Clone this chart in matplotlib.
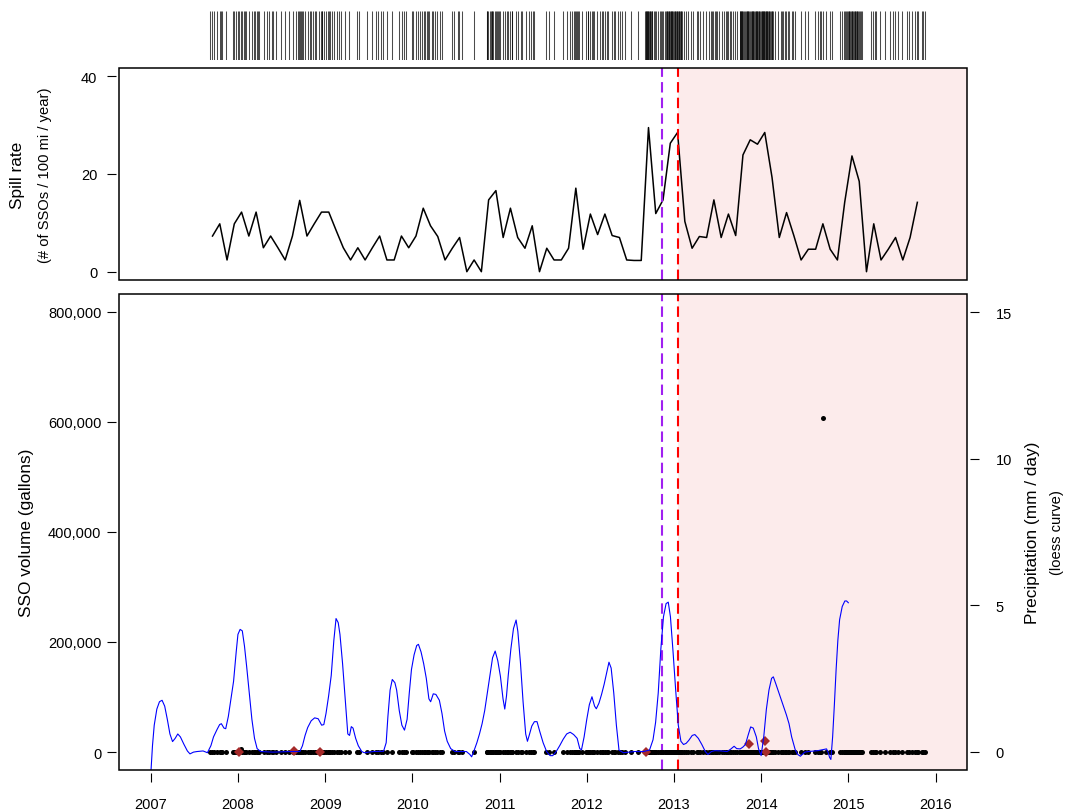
import matplotlib
matplotlib.use('Agg')
import matplotlib.pyplot as plt
from matplotlib.patches import Rectangle
from matplotlib.ticker import FuncFormatter
import pandas as pd

plt.rcParams['font.family'] = ['Liberation Sans', 'DejaVu Sans']

# --- data ---------------------------------------------------------------
# monthly spill rate (# SSOs / 100 mi / year), Sep 2007 .. Oct 2015
rate_months = pd.date_range('2007-09-01', '2015-10-01', freq='MS')
spill_rate = [7.3, 9.8, 2.4, 9.8, 12.2, 7.3, 12.2, 4.9, 7.3, 4.9, 2.4, 7.3,
              14.6, 7.3, 9.8, 12.2, 12.2, 8.5, 4.9, 2.4, 4.9, 2.4, 4.9, 7.3,
              2.4, 2.4, 7.3, 4.9, 7.3, 13.0, 9.4, 7.2, 2.4, 4.8, 7.0, 0.0,
              2.4, 0.0, 14.7, 16.6, 7.0, 13.0, 7.0, 4.8, 9.4, 0.0, 4.8, 2.4,
              2.4, 4.8, 17.1, 4.6, 11.8, 7.6, 11.8, 7.4, 7.0, 2.4, 2.3, 2.3,
              29.5, 11.9, 14.7, 26.3, 28.5, 10.3, 4.8, 7.2, 7.0, 14.7, 7.0, 11.8,
              7.4, 23.9, 27.0, 26.1, 28.5, 19.3, 7.0, 12.1, 7.4, 2.4, 4.6, 4.6,
              9.8, 4.6, 2.4, 14.2, 23.7, 18.5, 0.0, 9.8, 2.4, 4.6, 7.0, 2.4,
              7.0, 14.2]

# SSO event dates (decimal years), read from the rug
sso_dates = [
    2007.680, 2007.707, 2007.730, 2007.757, 2007.790, 2007.803, 2007.822, 2007.864,
    2007.948, 2007.959, 2007.979, 2007.998, 2008.017, 2008.036, 2008.050, 2008.070,
    2008.080, 2008.089, 2008.128, 2008.158, 2008.189, 2008.200, 2008.215, 2008.230,
    2008.242, 2008.300, 2008.330, 2008.361, 2008.390, 2008.407, 2008.433, 2008.495,
    2008.545, 2008.586, 2008.628, 2008.663, 2008.686, 2008.700, 2008.712, 2008.725,
    2008.739, 2008.745, 2008.770, 2008.808, 2008.825, 2008.839, 2008.858, 2008.880,
    2008.896, 2008.930, 2008.949, 2008.960, 2008.969, 2008.988, 2009.011, 2009.030,
    2009.045, 2009.056, 2009.076, 2009.106, 2009.137, 2009.160, 2009.183, 2009.228,
    2009.274, 2009.370, 2009.389, 2009.477, 2009.542, 2009.580, 2009.611, 2009.640,
    2009.660, 2009.710, 2009.764, 2009.845, 2009.878, 2009.900, 2009.930, 2009.993,
    2010.012, 2010.039, 2010.070, 2010.089, 2010.115, 2010.130, 2010.146, 2010.165,
    2010.180, 2010.192, 2010.222, 2010.240, 2010.261, 2010.287, 2010.318, 2010.345,
    2010.459, 2010.482, 2010.520, 2010.536, 2010.574, 2010.708, 2010.853, 2010.862,
    2010.872, 2010.890, 2010.903, 2010.912, 2010.918, 2010.930, 2010.949, 2010.960,
    2010.975, 2010.987, 2010.995, 2011.010, 2011.037, 2011.063, 2011.090, 2011.102,
    2011.121, 2011.140, 2011.147, 2011.186, 2011.210, 2011.243, 2011.262, 2011.300,
    2011.340, 2011.362, 2011.388, 2011.400, 2011.530, 2011.568, 2011.620, 2011.732,
    2011.770, 2011.808, 2011.835, 2011.850, 2011.865, 2011.880, 2011.890, 2011.904,
    2011.912, 2011.942, 2011.988, 2012.010, 2012.019, 2012.040, 2012.057, 2012.075,
    2012.087, 2012.122, 2012.152, 2012.171, 2012.190, 2012.210, 2012.230, 2012.248,
    2012.286, 2012.310, 2012.324, 2012.355, 2012.382, 2012.408, 2012.439, 2012.508,
    2012.590, 2012.668, 2012.675, 2012.682, 2012.688, 2012.695, 2012.700, 2012.707,
    2012.714, 2012.722, 2012.730, 2012.738, 2012.745, 2012.753, 2012.770, 2012.783,
    2012.800, 2012.821, 2012.840, 2012.850, 2012.867, 2012.880, 2012.898, 2012.910,
    2012.917, 2012.925, 2012.932, 2012.940, 2012.948, 2012.955, 2012.962, 2012.970,
    2012.975, 2012.982, 2012.992, 2013.004, 2013.012, 2013.018, 2013.025, 2013.032,
    2013.040, 2013.047, 2013.055, 2013.062, 2013.070, 2013.076, 2013.081, 2013.089,
    2013.110, 2013.135, 2013.158, 2013.196, 2013.223, 2013.261, 2013.280, 2013.299,
    2013.337, 2013.364, 2013.402, 2013.420, 2013.433, 2013.450, 2013.471, 2013.485,
    2013.490, 2013.517, 2013.548, 2013.578, 2013.595, 2013.605, 2013.625, 2013.643,
    2013.660, 2013.681, 2013.700, 2013.720, 2013.755, 2013.758, 2013.765, 2013.772,
    2013.777, 2013.785, 2013.796, 2013.805, 2013.815, 2013.826, 2013.834, 2013.840,
    2013.848, 2013.853, 2013.862, 2013.873, 2013.880, 2013.892, 2013.900, 2013.905,
    2013.911, 2013.920, 2013.930, 2013.937, 2013.944, 2013.949, 2013.958, 2013.968,
    2013.975, 2013.980, 2013.987, 2013.995, 2014.006, 2014.012, 2014.019, 2014.025,
    2014.032, 2014.038, 2014.045, 2014.052, 2014.058, 2014.064, 2014.072, 2014.078,
    2014.085, 2014.092, 2014.102, 2014.111, 2014.121, 2014.130, 2014.140, 2014.159,
    2014.198, 2014.225, 2014.236, 2014.255, 2014.270, 2014.282, 2014.305, 2014.320,
    2014.350, 2014.370, 2014.389, 2014.460, 2014.503, 2014.542, 2014.618, 2014.649,
    2014.675, 2014.690, 2014.713, 2014.740, 2014.790, 2014.809, 2014.905, 2014.931,
    2014.945, 2014.962, 2014.972, 2014.981, 2014.995, 2015.005, 2015.012, 2015.020,
    2015.028, 2015.038, 2015.045, 2015.058, 2015.065, 2015.072, 2015.077, 2015.090,
    2015.096, 2015.105, 2015.115, 2015.123, 2015.135, 2015.145, 2015.160, 2015.260,
    2015.287, 2015.306, 2015.320, 2015.363, 2015.421, 2015.478, 2015.510, 2015.535,
    2015.574, 2015.612, 2015.669, 2015.700, 2015.727, 2015.765, 2015.790, 2015.803,
    2015.841, 2015.860, 2015.880,
]
# spills with a visible volume (gallons); all others plot at ~0
large_spills = {2008.036: 5000, 2014.713: 606000}

# highlighted spills (brown diamonds)
flag_dates = [2008.01, 2008.64, 2008.94, 2012.68, 2013.86, 2014.045, 2014.06]
flag_volume = [0, 1800, 0, 0, 15300, 19500, 0]

# precipitation loess curve (mm / day)
precip_year = [
    2007.00, 2007.02, 2007.04, 2007.07, 2007.10, 2007.13, 2007.16, 2007.19, 2007.22, 2007.25,
    2007.28, 2007.31, 2007.34, 2007.38, 2007.42, 2007.45, 2007.49, 2007.53, 2007.60, 2007.65,
    2007.69, 2007.72, 2007.76, 2007.79, 2007.81, 2007.84, 2007.86, 2007.89, 2007.92, 2007.95,
    2007.98, 2008.00, 2008.025, 2008.05, 2008.075, 2008.10, 2008.13, 2008.16, 2008.19, 2008.22,
    2008.26, 2008.40, 2008.60, 2008.71, 2008.74, 2008.77, 2008.80, 2008.84, 2008.88, 2008.92,
    2008.96, 2008.985, 2009.01, 2009.04, 2009.07, 2009.10, 2009.125, 2009.15, 2009.17, 2009.20,
    2009.23, 2009.26, 2009.28, 2009.30, 2009.32, 2009.35, 2009.38, 2009.42, 2009.45, 2009.55,
    2009.67, 2009.70, 2009.72, 2009.745, 2009.77, 2009.80, 2009.82, 2009.85, 2009.88, 2009.91,
    2009.94, 2009.965, 2009.99, 2010.02, 2010.05, 2010.07, 2010.10, 2010.13, 2010.16, 2010.19,
    2010.21, 2010.24, 2010.27, 2010.31, 2010.34, 2010.37, 2010.40, 2010.44, 2010.49, 2010.62,
    2010.66, 2010.68, 2010.71, 2010.74, 2010.77, 2010.80, 2010.83, 2010.86, 2010.89, 2010.92,
    2010.95, 2010.98, 2011.01, 2011.04, 2011.06, 2011.08, 2011.10, 2011.13, 2011.16, 2011.19,
    2011.21, 2011.24, 2011.27, 2011.30, 2011.32, 2011.34, 2011.37, 2011.40, 2011.43, 2011.46,
    2011.50, 2011.54, 2011.58, 2011.61, 2011.65, 2011.69, 2011.73, 2011.77, 2011.81, 2011.85,
    2011.89, 2011.92, 2011.94, 2011.97, 2012.00, 2012.03, 2012.06, 2012.09, 2012.11, 2012.14,
    2012.17, 2012.20, 2012.23, 2012.255, 2012.28, 2012.31, 2012.34, 2012.37, 2012.42, 2012.55,
    2012.65, 2012.72, 2012.76, 2012.79, 2012.82, 2012.85, 2012.88, 2012.91, 2012.935, 2012.96,
    2012.99, 2013.02, 2013.05, 2013.08, 2013.11, 2013.14, 2013.17, 2013.21, 2013.24, 2013.28,
    2013.32, 2013.36, 2013.39, 2013.43, 2013.47, 2013.54, 2013.61, 2013.65, 2013.69, 2013.72,
    2013.76, 2013.79, 2013.82, 2013.85, 2013.88, 2013.91, 2013.945, 2013.97, 2014.00, 2014.03,
    2014.06, 2014.09, 2014.12, 2014.14, 2014.17, 2014.21, 2014.25, 2014.29, 2014.32, 2014.35,
    2014.39, 2014.42, 2014.45, 2014.50, 2014.54, 2014.65, 2014.75, 2014.77, 2014.785, 2014.80,
    2014.82, 2014.84, 2014.86, 2014.88, 2014.90, 2014.93, 2014.96, 2014.98, 2015.00]
precip_mm = [
    -0.8, 0.2, 0.9, 1.45, 1.7, 1.75, 1.55, 1.1, 0.6, 0.34,
    0.45, 0.6, 0.5, 0.25, 0.02, -0.08, -0.02, 0.0, 0.02, -0.04,
    0.2, 0.5, 0.75, 0.92, 0.95, 0.8, 0.78, 1.2, 1.8, 2.4,
    3.4, 4.0, 4.17, 4.12, 3.6, 2.9, 2.0, 1.1, 0.45, 0.1,
    0.0, -0.02, 0.0, 0.0, 0.2, 0.55, 0.82, 1.05, 1.15, 1.12,
    0.9, 0.92, 1.3, 1.9, 2.6, 3.8, 4.54, 4.4, 4.0, 3.0,
    1.8, 0.6, 0.55, 0.85, 0.8, 0.45, 0.2, 0.0, -0.04, 0.0,
    0.01, 0.3, 1.2, 2.1, 2.46, 2.35, 2.1, 1.4, 0.9, 0.73,
    1.1, 2.0, 2.8, 3.3, 3.62, 3.66, 3.4, 3.0, 2.5, 1.8,
    1.7, 1.97, 1.95, 1.75, 1.3, 0.7, 0.35, 0.1, 0.0, 0.0,
    -0.1, -0.18, 0.05, 0.3, 0.6, 0.95, 1.4, 2.0, 2.6, 3.2,
    3.43, 3.1, 2.57, 1.8, 1.45, 1.9, 2.6, 3.5, 4.2, 4.49,
    4.1, 3.03, 1.7, 0.6, 0.35, 0.55, 0.87, 1.02, 1.02, 0.7,
    0.3, 0.0, -0.14, -0.14, 0.0, 0.2, 0.42, 0.6, 0.66, 0.58,
    0.45, 0.1, 0.06, 0.5, 1.09, 1.6, 1.87, 1.55, 1.46, 1.65,
    1.95, 2.3, 2.7, 3.05, 2.85, 2.0, 0.9, 0.05, -0.04, 0.0,
    0.0, 0.05, 0.4, 1.0, 2.0, 3.5, 4.6, 5.05, 5.1, 4.6,
    3.4, 2.1, 0.9, 0.35, 0.24, 0.28, 0.38, 0.55, 0.58, 0.45,
    0.24, 0.0, -0.1, 0.0, 0.03, 0.02, 0.0, 0.08, 0.18, 0.1,
    0.09, 0.15, 0.24, 0.55, 0.84, 0.8, 0.5, 0.1, -0.14, 0.5,
    1.44, 2.1, 2.5, 2.55, 2.3, 1.95, 1.6, 1.25, 0.95, 0.5,
    0.07, -0.1, -0.16, -0.02, 0.0, 0.03, 0.09, -0.04, -0.2, -0.27,
    0.5, 1.6, 2.8, 3.8, 4.5, 4.95, 5.14, 5.14, 5.08]

purple_date = 2012.867
red_date = 2013.047
years = list(range(2007, 2017))

# --- figure -------------------------------------------------------------
rate_x = rate_months.year + (rate_months.month - 0.5) / 12
sso_vol = [large_spills.get(d, 0) for d in sso_dates]

XLIM = (2006.636, 2016.361)
SHADE = '#fcebeb'
PURPLE = '#a020f0'

fig = plt.figure(figsize=(10.65, 8.12), dpi=100)
L, W = 119 / 1065, 848 / 1065
ax_rug = fig.add_axes([L, 1 - 61 / 812, W, 49 / 812])
ax_top = fig.add_axes([L, 1 - 280.7 / 812, W, 211.4 / 812])
ax_bot = fig.add_axes([L, 1 - 770.7 / 812, W, 475.7 / 812])
ax_pr = ax_bot.twinx()


def r_axes(ax, sides):
    for s in ax.spines.values():
        s.set_visible(False)
    for s in sides:
        ax.spines[s].set_position(('outward', 2.2))
    ax.tick_params(direction='out', length=6.5, width=0.8, labelsize=10.5)


def box(ax):
    ax.add_patch(Rectangle((0, 0), 1, 1, transform=ax.transAxes, fill=False,
                           lw=1.1, ec='black', clip_on=False, zorder=10))


# rug of spill dates
ax_rug.vlines(sso_dates, 0, 1, colors='black', alpha=0.7, lw=0.75)
ax_rug.set_xlim(XLIM)
ax_rug.set_ylim(0, 1)
ax_rug.axis('off')

# spill rate
ax_top.axvspan(red_date, XLIM[1], color=SHADE, lw=0)
ax_top.plot(rate_x, spill_rate, color='black', lw=1.1)
ax_top.axvline(purple_date, color=PURPLE, lw=1.5, dashes=(5, 2.5))
ax_top.axvline(red_date, color='red', lw=1.5, dashes=(5, 2.5))
ax_top.set_xlim(XLIM)
ax_top.set_ylim(-1.64, 41.64)
ax_top.set_xticks([])
ax_top.set_yticks([0, 20, 40])
r_axes(ax_top, ['left'])
ax_top.tick_params(axis='y', pad=7)
box(ax_top)

# SSO volume
ax_bot.axvspan(red_date, XLIM[1], color=SHADE, lw=0)
ax_bot.axvline(purple_date, color=PURPLE, lw=1.5, dashes=(5, 2.5))
ax_bot.axvline(red_date, color='red', lw=1.5, dashes=(5, 2.5))
ax_bot.plot(sso_dates, sso_vol, 'o', ms=3.6, mew=0, color='black', zorder=3)
ax_bot.plot(flag_dates, flag_volume, 'D', ms=5, mew=0, color='#a52a2a', zorder=4)
ax_bot.set_xlim(XLIM)
ax_bot.set_ylim(-32000, 832000)
ax_bot.set_xticks(years)
ax_bot.set_yticks([0, 200000, 400000, 600000, 800000])
ax_bot.yaxis.set_major_formatter(FuncFormatter(lambda v, p: f'{int(v):,}'))
r_axes(ax_bot, ['left', 'bottom'])
ax_bot.tick_params(axis='x', pad=11)
ax_bot.tick_params(axis='y', pad=4)

# precipitation
ax_pr.plot(precip_year, precip_mm, color='blue', lw=0.8, zorder=2)
ax_pr.set_ylim(-0.62, 15.62)
ax_pr.set_yticks([0, 5, 10, 15])
r_axes(ax_pr, ['right'])
ax_pr.tick_params(axis='y', pad=12)
box(ax_pr)

# axis titles
fig.text(18 / 1065, 1 - 175 / 812, 'Spill rate', rotation=90, ha='center', va='center', fontsize=12.4)
fig.text(45 / 1065, 1 - 175 / 812, '(# of SSOs / 100 mi / year)', rotation=90,
         ha='center', va='center', fontsize=10.6)
fig.text(27 / 1065, 1 - 533 / 812, 'SSO volume (gallons)', rotation=90, ha='center', va='center', fontsize=12.4)
fig.text(1032 / 1065, 1 - 533 / 812, 'Precipitation (mm / day)', rotation=90,
         ha='center', va='center', fontsize=12.4)
fig.text(1057 / 1065, 1 - 533 / 812, '(loess curve)', rotation=90, ha='center', va='center', fontsize=10.6)

fig.savefig('out.png', dpi=100)
